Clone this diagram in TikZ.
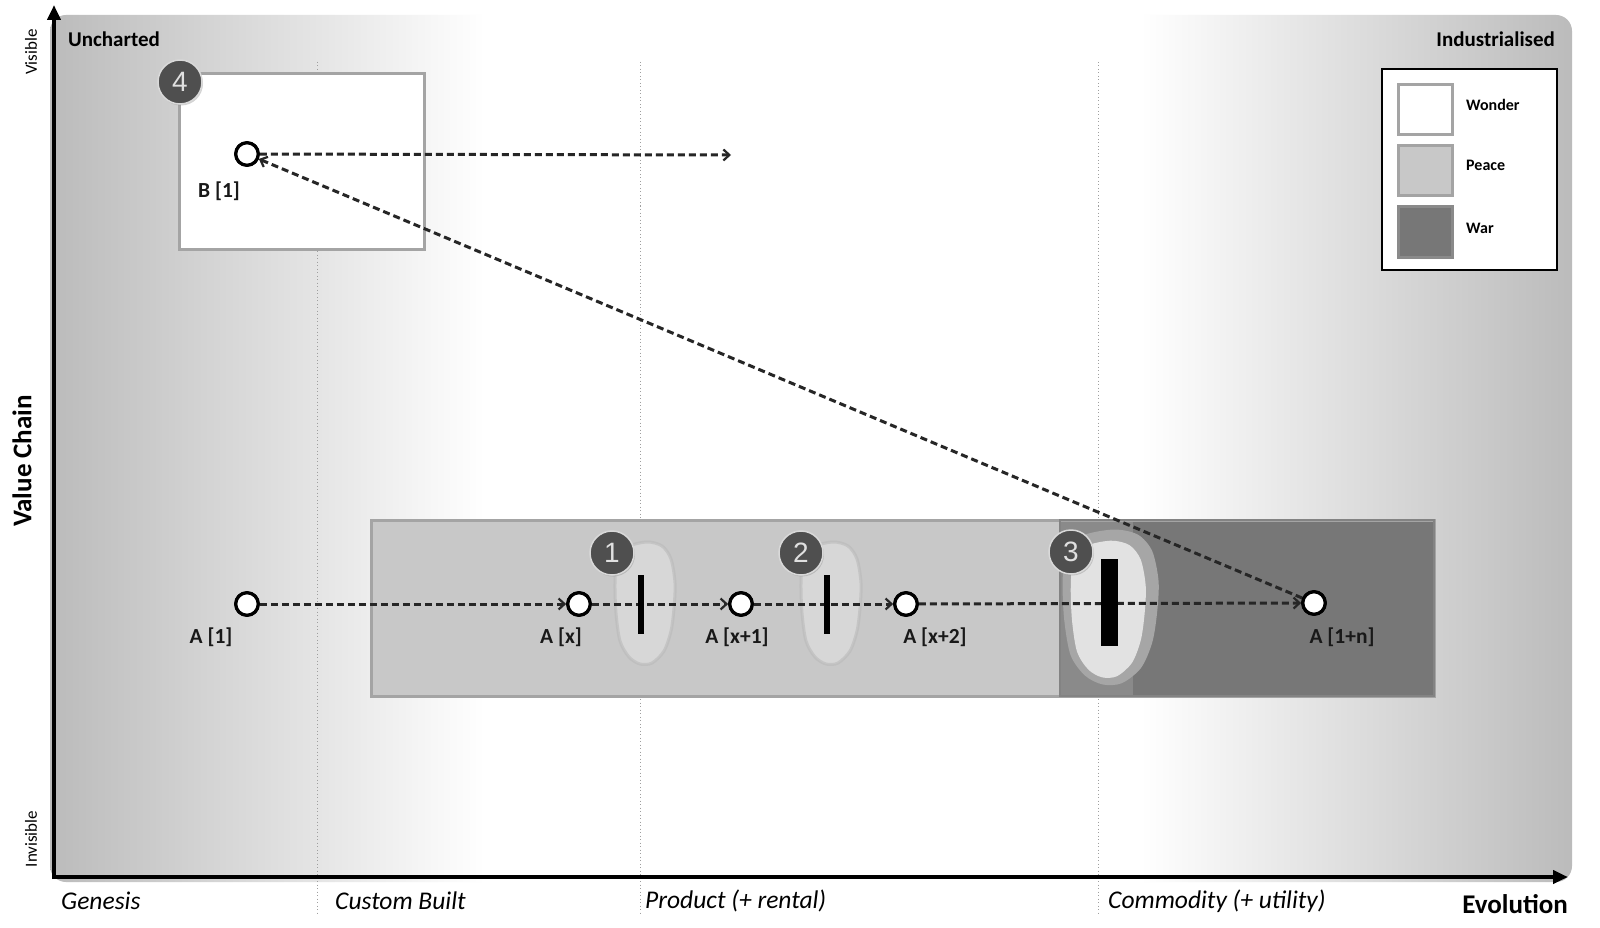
\documentclass[tikz,border=0pt]{standalone}
\usepackage{fontspec}
\setmainfont{Carlito}
\newfontfamily\digitfont{Liberation Sans}
\usetikzlibrary{arrows.meta,shadows}
\definecolor{bgG}{HTML}{BBBBBB}
\definecolor{peaceC}{HTML}{C8C8C8}
\definecolor{warC}{HTML}{777777}
\definecolor{bandC}{HTML}{8A8A8A}
\definecolor{rimC}{HTML}{A6A6A6}
\definecolor{blobC}{HTML}{E2E2E2}
\definecolor{badgeC}{HTML}{4F4F4F}
\definecolor{dashC}{HTML}{262626}
\definecolor{edgeC}{HTML}{A4A4A4}
\begin{document}
\begin{tikzpicture}[x=1pt,y=-1pt,
  comp/.style={circle, draw=black, fill=white, line width=3.2pt, minimum size=22.5pt, inner sep=0pt},
  lbl/.style={font=\fontsize{21.5}{24}\selectfont\bfseries, text=black!90, inner sep=0pt},
  flow/.style={draw=dashC, line width=3pt, dash pattern=on 7pt off 4pt, -{Straight Barb[length=6pt,width=11pt,line width=2.2pt]}},
  badge/.style={circle, fill=badgeC, draw=white!85!black, line width=1.5pt, minimum size=44pt, inner sep=0pt, text=white!88!black, font=\digitfont\fontsize{28}{30}\selectfont, drop shadow={shadow xshift=1pt, shadow yshift=-1.5pt, opacity=0.35}},
  stage/.style={font=\fontsize{25.5}{28}\selectfont\itshape, anchor=west, inner sep=0pt},
  axislbl/.style={font=\fontsize{27}{30}\selectfont\bfseries, inner sep=0pt},
  corner/.style={font=\fontsize{21}{24}\selectfont\bfseries, inner sep=0pt},
  vis/.style={font=\fontsize{17}{20}\selectfont, rotate=90, inner sep=0pt},
  guide/.style={draw=gray!75, line width=0.9pt, dash pattern=on 1pt off 2.5pt},
  swatch/.style={line width=3pt},
  legtxt/.style={font=\fontsize{16}{19}\selectfont\bfseries, anchor=west, inner sep=0pt},
  axisline/.style={line width=4pt, -{Triangle[length=15pt,width=13pt]}},
  bar/.style={fill=black}
]
\useasboundingbox (0,0) rectangle (1600,928);
\fill[white] (0,0) rectangle (1600,928);
% background gradient
\begin{scope}
  \clip[rounded corners=16pt] (50,15) rectangle (1572,882);
  \shade[left color=bgG, right color=white] (50,15) rectangle (485,882);
  \shade[left color=white, right color=bgG] (1140,15) rectangle (1573,882);
\end{scope}
% guides
\draw[guide] (317,62) -- (317,914);
\draw[guide] (640,62) -- (640,914);
\draw[guide] (1098,62) -- (1098,914);
% axes
\coordinate (O) at (54,877);
\coordinate (Ytip) at (54,5);
\coordinate (Xtip) at (1568,877);
\draw[axisline] ([yshift=-2pt]O) -- (Ytip);
\draw[axisline] ([xshift=-2pt]O) -- (Xtip);
% axis labels
\node[stage] (gen) at (61,901) {Genesis};
\node[stage] (cus) at (335,901) {Custom Built};
\node[stage] (pro) at (645,901) {Product (+ rental)};
\node[stage] (com) at (1108,901) {Commodity (+ utility)};
\node[axislbl, anchor=east] (evo) at (1568,904) {Evolution};
\node[axislbl, rotate=90] (vc) at (22,461) {Value Chain};
\node[vis] (visi) at (31,52) {Visible};
\node[vis] (invis) at (31,839) {Invisible};
\node[corner, anchor=west] (unch) at (68,39) {Uncharted};
\node[corner, anchor=east] (indu) at (1555,39) {Industrialised};
% legend
\draw[black, line width=1.5pt, fill=white] (1382,69) rectangle (1557,270);
\draw[swatch, draw=edgeC, fill=white] (1398,85) rectangle (1452,135);
\draw[swatch, draw=edgeC, fill=peaceC] (1398,146) rectangle (1452,196);
\draw[swatch, draw=bandC, fill=warC] (1398,207) rectangle (1452,257);
\node[legtxt] (lw) at (1466,105) {Wonder};
\node[legtxt] (lp) at (1466,165) {Peace};
\node[legtxt] (lwar) at (1466,228) {War};
% wonder box
\draw[draw=edgeC, line width=3pt, fill=white] (179,74) rectangle (424,249);
% peace/war strip
\draw[draw=edgeC, line width=3pt, fill=peaceC] (371,520) rectangle (1434,696);
\fill[warC] (1060,521.5) rectangle (1432.5,694.5);
\fill[bandC] (1060,521.5) rectangle (1133,694.5);
\draw[edgeC!80!black, line width=2pt] (1060,520) rectangle (1434,696);
% blobs 1 and 2
\foreach \bx in {644,830}{
  \begin{scope}[shift={(\bx,603)}]
    \draw[gray!55, line width=3pt, opacity=0.6, fill=blobC] plot[smooth cycle] coordinates
      {(3,-61) (18,-57) (27,-44) (31,-20) (30,5) (27,28) (20,48) (8,60) (-4,61) (-15,54) (-24,38) (-28,10) (-29,-20) (-27,-42) (-17,-56)};
  \end{scope}
}
% blob 3
\begin{scope}[shift={(1109,607)}, xscale=1.6, yscale=1.27]
  \fill[rimC] plot[smooth cycle] coordinates
    {(3,-61) (18,-57) (27,-44) (31,-20) (30,5) (27,28) (20,48) (8,60) (-4,61) (-15,54) (-24,38) (-28,10) (-29,-20) (-27,-42) (-17,-56)};
\end{scope}
\begin{scope}[shift={(1107,609)}, xscale=1.25, yscale=1.12]
  \fill[blobC] plot[smooth cycle] coordinates
    {(3,-61) (18,-57) (27,-44) (31,-20) (30,5) (27,28) (20,48) (8,60) (-4,61) (-15,54) (-24,38) (-28,10) (-29,-20) (-27,-42) (-17,-56)};
\end{scope}
% components
\node[comp] (B1) at (247,154) {};
\coordinate (Bend) at (731,155);
\node[comp] (A1) at (247,604) {};
\node[comp] (Ax) at (579,604) {};
\node[comp] (Ax1) at (741,604) {};
\node[comp] (Ax2) at (906,604) {};
\node[comp] (An) at (1314,603) {};
% connectors
\draw[flow] (B1) -- (Bend);
\draw[flow] (A1) -- (Ax);
\draw[flow] (Ax) -- (Ax1);
\draw[flow] (Ax1) -- (Ax2);
\draw[flow] (Ax2) -- (An);
\draw[flow] (An) -- (B1);
% bars
\fill[bar] (637.5,575) rectangle (643.5,634);
\fill[bar] (824,575) rectangle (830,634);
\fill[bar] (1101,559) rectangle (1118,646);
% redraw components on top
\node[comp] at (B1) {};
\node[comp] at (A1) {};
\node[comp] at (Ax) {};
\node[comp] at (Ax1) {};
\node[comp] at (Ax2) {};
\node[comp] at (An) {};
% labels
\node[lbl] (lB1) at (219,191) {B [1]};
\node[lbl] (lA1) at (211,637) {A [1]};
\node[lbl] (lAx) at (561,637) {A [x]};
\node[lbl] (lAx1) at (737,637) {A [x+1]};
\node[lbl] (lAx2) at (935,637) {A [x+2]};
\node[lbl] (lAn) at (1342,637) {A [1+n]};
% badges
\node[badge] (b4) at (180,82) {4};
\node[badge] (b1) at (612,553) {1};
\node[badge] (b2) at (801,553) {2};
\node[badge] (b3) at (1071,552) {3};
\end{tikzpicture}
\end{document}
